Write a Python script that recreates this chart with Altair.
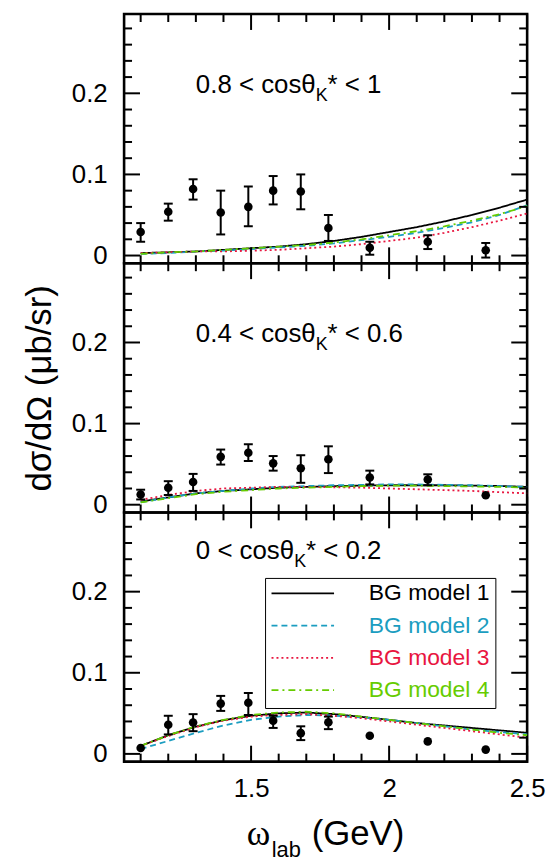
import altair as alt
import pandas as pd

FONT = "Liberation Sans"
W, H = 406, 251

# ---------------- data ----------------
x_pts = [1.10, 1.20, 1.29, 1.39, 1.49, 1.58, 1.68, 1.78, 1.93, 2.14, 2.35]

p1_val = [0.029, 0.054, 0.082, 0.053, 0.060, 0.080, 0.079, 0.034, 0.0095, 0.017, 0.0065]
p1_lo = [0.017, 0.043, 0.069, 0.026, 0.036, 0.063, 0.057, 0.018, 0.001, 0.008, -0.0025]
p1_hi = [0.040, 0.064, 0.094, 0.080, 0.085, 0.098, 0.100, 0.050, 0.017, 0.025, 0.0155]

p2_val = [0.0125, 0.021, 0.028, 0.059, 0.064, 0.051, 0.045, 0.056, 0.0335, 0.031, 0.0117]
p2_lo = [0.0065, 0.012, 0.017, 0.0495, 0.054, 0.042, 0.027, 0.039, 0.025, 0.024, 0.0117]
p2_hi = [0.0185, 0.029, 0.038, 0.068, 0.0745, 0.060, 0.061, 0.072, 0.042, 0.0375, 0.0117]

p3_val = [0.0073, 0.036, 0.0386, 0.062, 0.063, 0.041, 0.0256, 0.039, 0.0224, 0.0154, 0.0053]
p3_lo = [0.0073, 0.024, 0.028, 0.053, 0.048, 0.032, 0.017, 0.0305, 0.0224, 0.0154, 0.0053]
p3_hi = [0.0073, 0.047, 0.049, 0.0715, 0.075, 0.047, 0.034, 0.046, 0.0224, 0.0154, 0.0053]

x_model = [1.1, 1.2, 1.3, 1.4, 1.5, 1.6, 1.7, 1.8, 1.9, 2.0, 2.1, 2.2, 2.3, 2.4, 2.5]
models = ["BG model 1", "BG model 2", "BG model 3", "BG model 4"]

p1_m1 = [0.003, 0.004, 0.005, 0.007, 0.009, 0.011, 0.014, 0.018, 0.023, 0.029, 0.035, 0.042, 0.050, 0.059, 0.069]
p1_m2 = [0.002, 0.003, 0.005, 0.006, 0.008, 0.010, 0.012, 0.015, 0.019, 0.023, 0.028, 0.034, 0.041, 0.050, 0.062]
p1_m3 = [0.003, 0.004, 0.005, 0.005, 0.006, 0.007, 0.009, 0.011, 0.014, 0.018, 0.022, 0.028, 0.035, 0.043, 0.052]
p1_m4 = [0.002, 0.004, 0.005, 0.007, 0.009, 0.011, 0.013, 0.016, 0.020, 0.025, 0.030, 0.036, 0.043, 0.051, 0.061]

p2_m1 = [0.004, 0.009, 0.014, 0.017, 0.019, 0.021, 0.022, 0.023, 0.0235, 0.024, 0.024, 0.024, 0.0235, 0.023, 0.022]
p2_m2 = [0.003, 0.009, 0.014, 0.017, 0.020, 0.022, 0.023, 0.024, 0.0245, 0.025, 0.025, 0.0245, 0.024, 0.023, 0.022]
p2_m3 = [0.006, 0.012, 0.017, 0.020, 0.021, 0.022, 0.022, 0.0215, 0.021, 0.020, 0.019, 0.018, 0.017, 0.0155, 0.014]
p2_m4 = [0.003, 0.008, 0.013, 0.016, 0.018, 0.020, 0.021, 0.022, 0.023, 0.0235, 0.0235, 0.023, 0.0225, 0.022, 0.021]

p3_m1 = [0.0098, 0.023, 0.0335, 0.0416, 0.047, 0.050, 0.051, 0.049, 0.0457, 0.042, 0.038, 0.035, 0.032, 0.029, 0.026]
p3_m2 = [0.006, 0.016, 0.026, 0.035, 0.042, 0.046, 0.048, 0.047, 0.045, 0.042, 0.038, 0.034, 0.030, 0.027, 0.024]
p3_m3 = [0.010, 0.022, 0.033, 0.041, 0.046, 0.048, 0.049, 0.047, 0.044, 0.040, 0.036, 0.032, 0.028, 0.024, 0.020]
p3_m4 = [0.0098, 0.023, 0.034, 0.042, 0.048, 0.051, 0.052, 0.050, 0.046, 0.042, 0.038, 0.034, 0.030, 0.026, 0.023]

model_colors = ["#000000", "#1b9dc0", "#e8163f", "#66cc00"]
model_dashes = [[1, 0], [6, 4], [2, 3], [7, 4, 2, 4]]

x_major = [1.5, 2.0, 2.5]
x_minor = [1.1, 1.2, 1.3, 1.4, 1.6, 1.7, 1.8, 1.9, 2.1, 2.2, 2.3, 2.4]
y_major = [0.0, 0.1, 0.2]
y_minor = [0.02, 0.04, 0.06, 0.08, 0.12, 0.14, 0.16, 0.18, 0.22, 0.24, 0.26, 0.28]

panel_lo = ["0.8", "0.4", "0"]
panel_hi = ["1", "0.6", "0.2"]
label_x = 1.3
label_y = [0.2, 0.2, 0.24]

x_domain = [1.04, 2.5]
y_domain = [-0.0095, 0.2977]

# Arial/Liberation Sans advance widths (per 1000 em)
AW = {'0': 556, '1': 556, '2': 556, '4': 556, '6': 556, '8': 556, '.': 278, ' ': 278,
      '<': 584, 'c': 500, 'o': 556, 's': 500, 'θ': 556, 'K': 667, '*': 389,
      '(': 333, ')': 333, 'G': 778, 'e': 556, 'V': 667, 'l': 222, 'a': 556, 'b': 556}


def tw(s, size):
    return sum(AW.get(ch, 556) for ch in s) * size / 1000.0


def panel(i, vals, los, his, curves, show_x, show_ytitle, show_legend):
    xs = alt.Scale(domain=x_domain, nice=False, zero=False)
    ys = alt.Scale(domain=y_domain, nice=False, zero=False)

    pts = pd.DataFrame({"x": x_pts, "y": vals, "lo": los, "hi": his})
    rows = []
    for m, c in zip(models, curves):
        for xv, yv in zip(x_model, c):
            rows.append({"x": xv, "y": yv, "model": m})
    cdf = pd.DataFrame(rows)

    if show_x:
        x_axis = alt.Axis(values=x_major, format=".1~f", labelFontSize=26, labelFont=FONT,
                          labelColor="black", labelPadding=14, domain=False, ticks=False,
                          grid=False, labelFlush=False)
    else:
        x_axis = None
    y_kw = dict(values=y_major, format=".1~f", labelFontSize=26, labelFont=FONT,
                labelColor="black", labelPadding=17, domain=False, ticks=False, grid=False,
                titleFontSize=35, titleFont=FONT, titleColor="black",
                titleFontWeight="normal", titlePadding=14)
    y_axis = alt.Axis(**y_kw)
    ytitle = "dσ/dΩ (μb/sr)" if show_ytitle else None

    def XE(field):
        return alt.X(field, scale=xs, axis=x_axis, title=None)

    def YE(field):
        return alt.Y(field, scale=ys, axis=y_axis, title=ytitle)

    if show_legend:
        lcolor = ("datum.label == 'BG model 2' ? '%s' : datum.label == 'BG model 3' ? '%s' : "
                  "datum.label == 'BG model 4' ? '%s' : '%s'") % (
            model_colors[1], model_colors[2], model_colors[3], model_colors[0])
        legend = alt.Legend(orient="none", legendX=142, legendY=66, title=None,
                            symbolType="stroke", symbolSize=3969, symbolStrokeWidth=1.8,
                            labelFont=FONT, labelFontSize=23,
                            labelColor=alt.ExprRef(expr=lcolor),
                            labelOffset=34, clipHeight=20, rowPadding=9.5, padding=5.5,
                            strokeColor="black", fillColor="white")
    else:
        legend = None

    lines = alt.Chart(cdf).mark_line(strokeWidth=1.8).encode(
        x=XE("x:Q"), y=YE("y:Q"),
        color=alt.Color("model:N", scale=alt.Scale(domain=models, range=model_colors), legend=legend),
        strokeDash=alt.StrokeDash("model:N", scale=alt.Scale(domain=models, range=model_dashes), legend=legend),
    )

    base = alt.Chart(pts)
    flt = "datum.hi > datum.lo"
    err = base.transform_filter(flt).mark_rule(strokeWidth=2, color="black").encode(
        x=XE("x:Q"), y=YE("lo:Q"), y2="hi:Q")
    cap_lo = base.transform_filter(flt).mark_tick(
        orient="horizontal", size=9, thickness=2, color="black", opacity=1).encode(
        x=XE("x:Q"), y=YE("lo:Q"))
    cap_hi = base.transform_filter(flt).mark_tick(
        orient="horizontal", size=9, thickness=2, color="black", opacity=1).encode(
        x=XE("x:Q"), y=YE("hi:Q"))
    dots = base.mark_circle(size=75, color="black", opacity=1).encode(
        x=XE("x:Q"), y=YE("y:Q"))

    # inward ticks on all four sides
    layers = [lines, err, cap_lo, cap_hi, dots]
    for vals_t, ln in ((x_major, 16), (x_minor, 8)):
        tdf = pd.DataFrame({"v": vals_t})
        for y0, y1 in ((H, H - ln), (0, ln)):
            layers.append(alt.Chart(tdf).mark_rule(strokeWidth=2, color="black").encode(
                x=XE("v:Q"), y=alt.value(y0), y2=alt.value(y1)))
    for vals_t, ln in ((y_major, 16), (y_minor, 8)):
        tdf = pd.DataFrame({"v": vals_t})
        for x0, x1 in ((0, ln), (W, W - ln)):
            layers.append(alt.Chart(tdf).mark_rule(strokeWidth=2, color="black").encode(
                y=YE("v:Q"), x=alt.value(x0), x2=alt.value(x1)))

    # panel label with sub/superscript pieces
    a = f"{panel_lo[i]} < cosθ"
    b = "K"
    c = f"* < {panel_hi[i]}"
    ldf = pd.DataFrame({"x": [label_x], "y": [label_y[i]]})
    lb = alt.Chart(ldf)
    fa, fb = 26, 18
    wa = tw(a, fa)
    for txt, fs, dx, dy in ((a, fa, 0, 0), (b, fb, wa, 8), (c, fa, wa + tw(b, fb), 0)):
        layers.append(lb.mark_text(text=txt, align="left", baseline="alphabetic", font=FONT,
                                   fontSize=fs, color="black", dx=dx, dy=dy).encode(
            x=XE("x:Q"), y=YE("y:Q")))

    if show_x:
        w1 = 25.0
        w2 = tw("lab", 22)
        gap = 11.0
        w3 = tw("(GeV)", 35)
        start = W / 2 - (w1 + w2 + gap + w3) / 2
        ty = H + 84
        tdf1 = pd.DataFrame({"k": [0]})
        for txt, fnt, fs, xo, yo in (("ω", "Liberation Serif", 36, 0, 0),
                                     ("lab", FONT, 22, w1, 12),
                                     ("(GeV)", FONT, 35, w1 + w2 + gap, 0)):
            layers.append(alt.Chart(tdf1).mark_text(text=txt, align="left", baseline="alphabetic",
                                                    font=fnt, fontSize=fs, color="black").encode(
                x=alt.value(start + xo), y=alt.value(ty + yo)))

    return alt.layer(*layers).properties(width=W, height=H)


p1 = panel(0, p1_val, p1_lo, p1_hi, [p1_m1, p1_m2, p1_m3, p1_m4], False, False, False)
p2 = panel(1, p2_val, p2_lo, p2_hi, [p2_m1, p2_m2, p2_m3, p2_m4], False, True, False)
p3 = panel(2, p3_val, p3_lo, p3_hi, [p3_m1, p3_m2, p3_m3, p3_m4], True, False, True)

chart = alt.vconcat(p1, p2, p3, spacing=0, bounds="flush").resolve_scale(
    color="independent", strokeDash="independent"
).properties(
    padding={"left": 21, "top": 8, "right": 0, "bottom": 0},
    background="white",
).configure(
    font=FONT
).configure_view(
    stroke="black", strokeWidth=2.6
)

chart.save("out.html", embed_options={"renderer": "svg", "actions": False})
